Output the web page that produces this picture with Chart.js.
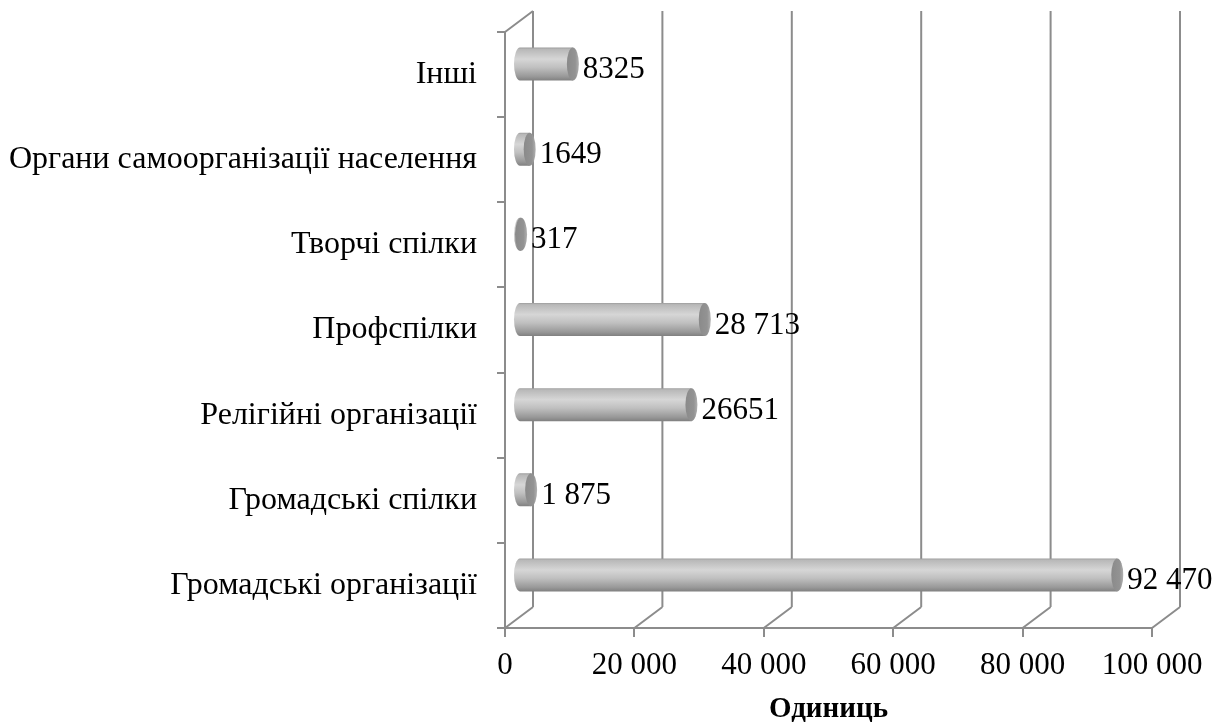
<!DOCTYPE html>
<html>
<head>
<meta charset="utf-8">
<script src="https://cdn.jsdelivr.net/npm/chart.js@4"></script>
<style>
  html, body { margin: 0; padding: 0; background: #fff; }
  #wrap { width: 1227px; height: 727px; }
</style>
</head>
<body>
<div id="wrap"><canvas id="chart" width="1227" height="727"></canvas></div>
<script>
const categories = [
    'Інші',
    'Органи самоорганізації населення',
    'Творчі спілки',
    'Профспілки',
    'Релігійні організації',
    'Громадські спілки',
    'Громадські організації'
];
const values = [8325, 1649, 317, 28713, 26651, 1875, 92470];
const valueLabels = ['8325', '1649', '317', '28 713', '26651', '1 875', '92 470'];
const tickLabels = ['0', '20 000', '40 000', '60 000', '80 000', '100 000'];
const axisTitle = 'Одиниць';

const FONT = "'Liberation Serif', 'Times New Roman', serif";
const LINE = '#8c8c8c';
const DX = 28, DY = -21;   // depth of the 3D box

// back wall, side wall diagonals and floor diagonals
const wallPlugin = {
    id: 'wall',
    beforeDatasetsDraw(chart) {
        const { ctx, chartArea: a, scales: { x } } = chart;
        ctx.save();
        ctx.strokeStyle = LINE;
        ctx.lineWidth = 2;
        ctx.beginPath();
        x.ticks.forEach(t => {
            const px = x.getPixelForValue(t.value);
            ctx.moveTo(px + DX, a.top + DY);
            ctx.lineTo(px + DX, a.bottom + DY);
            ctx.moveTo(px, a.bottom);
            ctx.lineTo(px + DX, a.bottom + DY);
        });
        ctx.moveTo(a.left, a.top);
        ctx.lineTo(a.left + DX, a.top + DY);
        ctx.stroke();
        ctx.restore();
    }
};

function cylinder(ctx, x0, x1, yc, h, rx) {
    const top = yc - h / 2, ry = h / 2;
    const g = ctx.createLinearGradient(0, top, 0, top + h);
    g.addColorStop(0, '#9c9c9c');
    g.addColorStop(0.05, '#b8b8b8');
    g.addColorStop(0.35, '#d6d6d6');
    g.addColorStop(0.6, '#c0c0c0');
    g.addColorStop(0.88, '#989898');
    g.addColorStop(1, '#808080');
    ctx.beginPath();
    ctx.moveTo(x1, top);
    ctx.lineTo(x0, top);
    ctx.ellipse(x0, yc, rx, ry, 0, -Math.PI / 2, Math.PI / 2, true);
    ctx.lineTo(x1, top + h);
    ctx.closePath();
    ctx.fillStyle = g;
    ctx.fill();

    const f = ctx.createLinearGradient(x1 - rx, 0, x1 + rx, 0);
    f.addColorStop(0, '#8a8a8a');
    f.addColorStop(0.7, '#939393');
    f.addColorStop(1, '#b0b0b0');
    ctx.beginPath();
    ctx.ellipse(x1, yc, rx, ry, 0, 0, Math.PI * 2);
    ctx.fillStyle = f;
    ctx.fill();
}

const cylinderPlugin = {
    id: 'cylinders',
    afterDatasetsDraw(chart) {
        const { ctx } = chart;
        const meta = chart.getDatasetMeta(0);
        ctx.save();
        meta.data.forEach((bar, i) => {
            const x0 = bar.base + DX / 2;
            const x1 = bar.x + DX / 2;
            const yc = bar.y + DY / 2;
            const rx = 6;
            cylinder(ctx, x0, x1, yc, bar.height, rx);
            ctx.fillStyle = '#000';
            ctx.font = '31px ' + FONT;
            ctx.textAlign = 'left';
            ctx.textBaseline = 'middle';
            ctx.fillText(valueLabels[i], x1 + rx + 4, yc + 6);
        });
        ctx.restore();
    }
};

new Chart(document.getElementById('chart'), {
    type: 'bar',
    data: {
        labels: categories,
        datasets: [{
            data: values,
            backgroundColor: 'rgba(0,0,0,0)',
            borderWidth: 0,
            barThickness: 33
        }]
    },
    options: {
        indexAxis: 'y',
        responsive: false,
        animation: false,
        layout: { padding: { top: 32, right: 75, left: 0, bottom: 0 } },
        plugins: {
            legend: { display: false },
            tooltip: { enabled: false }
        },
        scales: {
            x: {
                min: 0,
                max: 100000,
                ticks: {
                    stepSize: 20000,
                    color: '#000',
                    font: { family: FONT, size: 31 },
                    padding: 10,
                    callback: (v, i) => tickLabels[i]
                },
                grid: { drawOnChartArea: false, color: LINE, lineWidth: 2, tickLength: 9 },
                border: { display: true, color: LINE, width: 2 },
                title: {
                    display: true,
                    text: axisTitle,
                    color: '#000',
                    font: { family: FONT, size: 29, weight: 'bold' },
                    padding: { top: 2, bottom: 0 }
                },
                afterFit: s => { s.height = 99; }
            },
            y: {
                ticks: {
                    color: '#000',
                    font: { family: FONT, size: 32 },
                    padding: 20
                },
                grid: { drawOnChartArea: false, color: LINE, lineWidth: 2, tickLength: 8, offset: true },
                border: { display: true, color: LINE, width: 2 },
                afterFit: s => { s.width = 505; s.paddingTop = 0; s.paddingBottom = 0; }
            }
        }
    },
    plugins: [wallPlugin, cylinderPlugin]
});
</script>
</body>
</html>
